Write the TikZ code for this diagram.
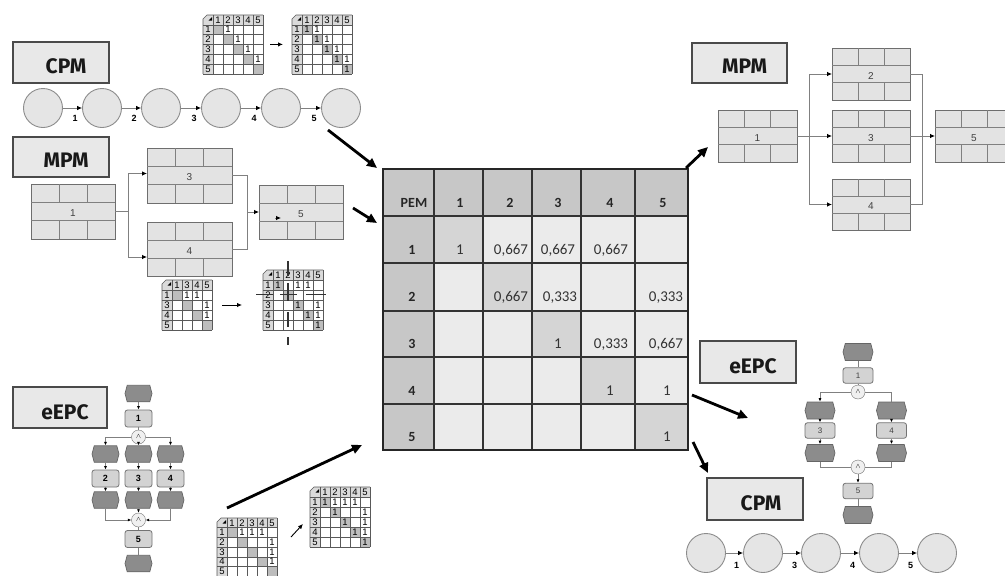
\documentclass[tikz,border=0pt]{standalone}
\usepackage{fontspec}
\setmainfont{Liberation Sans}
\newfontfamily\labfont{Fira Sans}
\newfontfamily\tabfont{Carlito}
\usetikzlibrary{arrows.meta,shapes.symbols,calc}

\definecolor{lblfill}{HTML}{E8E8E8}
\definecolor{lbldraw}{HTML}{4A4A4A}
\definecolor{mpmfill}{HTML}{E3E3E3}
\definecolor{mpmdraw}{HTML}{6E6E6E}
\definecolor{cpmfill}{HTML}{E5E5E5}
\definecolor{evfill}{HTML}{8C8C8C}
\definecolor{fnfill}{HTML}{D3D3D3}
\definecolor{pemhead}{HTML}{C7C7C7}
\definecolor{pembody}{HTML}{EBEBEB}
\definecolor{pemdiag}{HTML}{D5D5D5}
\definecolor{mmhead}{HTML}{DADADA}
\definecolor{mmdiag}{HTML}{BDBDBD}

\tikzset{
  lblbox/.style={draw=lbldraw, line width=1.3pt, fill=lblfill, inner sep=0, outer sep=0},
  lbltxt/.style={inner sep=0, font=\labfont\bfseries\fontsize{21}{21}\selectfont, text=black!90},
  cpmc/.style={circle, draw=black!45, line width=0.9pt, fill=cpmfill, minimum size=39pt, inner sep=0},
  cpmarr/.style={draw=black!50, line width=0.8pt, -{Latex[length=5pt,width=4.5pt,color=black]}},
  cpmnum/.style={inner sep=0, font=\bfseries\fontsize{9}{9}\selectfont},
  mpmbox/.style={draw=mpmdraw, line width=0.9pt, fill=mpmfill, inner sep=0, outer sep=0},
  mpmin/.style={draw=black!50, line width=0.8pt},
  mpmtxt/.style={inner sep=0, font=\fontsize{10}{10}\selectfont, text=black!75},
  conn/.style={draw=black!50, line width=0.8pt},
  connarr/.style={conn, -{Latex[length=5pt,width=4.5pt,color=black]}},
  event/.style={signal, signal to=west and east, signal pointer angle=150, draw=black!60,
                fill=evfill, line width=0.7pt, inner sep=0},
  func/.style={rectangle, rounded corners=2.5pt, draw=black!55, fill=fnfill, line width=0.8pt, inner sep=0},
  andc/.style={circle, draw=black!55, fill=black!6, minimum size=14pt, inner sep=0,
               font=\fontsize{7}{7}\selectfont},
  epcarr/.style={conn, -{Latex[length=3.5pt,width=3pt,color=black]}},
  bigarr/.style={line width=2.8pt, -{Triangle[length=10pt,width=9pt]}},
  smallarr/.style={line width=0.9pt, -{Latex[length=5pt,width=4.5pt]}},
  mmgrid/.style={draw=black!65, line width=0.6pt},
  mmtxt/.style={inner sep=0, font=\fontsize{9.5}{9.5}\selectfont},
  pemgrid/.style={draw=black!80, line width=1.1pt},
  pemhdr/.style={inner sep=0, anchor=base, font=\tabfont\bfseries\fontsize{14}{14}\selectfont, text=black!85},
  pemval/.style={inner sep=0, anchor=base, font=\tabfont\fontsize{15}{15}\selectfont, text=black!80},
  levent/.style={event, minimum width=27pt, minimum height=16.5pt},
  lfunc/.style={func, minimum width=27pt, minimum height=17pt, font=\bfseries\fontsize{9}{9}\selectfont},
  revent/.style={event, minimum width=30pt, minimum height=17pt},
  rfunc/.style={func, minimum width=30pt, minimum height=15.5pt, font=\fontsize{8}{8}\selectfont, text=black!75},
}

% small dependency matrix: name, origin, labels, entries (row/col), cell height
\newcommand{\minimat}[5]{%
  \begin{scope}[shift={(#2)}]
    \def\mh{#5}
    \foreach \lab [count=\k] in {#3} {\xdef\mmn{\k}}
    \pgfmathtruncatemacro\mmt{\mmn+1}
    \node[inner sep=0, outer sep=0, minimum width=\mmt*10pt, minimum height=\mmt*\mh*1pt,
          anchor=north west] (#1) at (0,0) {};
    \fill[white] (10,\mh) rectangle (\mmt*10,\mmt*\mh);
    \foreach \lab [count=\i] in {#3} {
      \fill[mmhead] (\i*10,0) rectangle ++(10,\mh);
      \fill[mmhead] (0,\i*\mh) rectangle ++(10,\mh);
      \fill[mmdiag] (\i*10,\i*\mh) rectangle ++(10,\mh);
      \node[mmtxt] (#1-c\i) at (\i*10+5,\mh/2) {\lab};
      \node[mmtxt] (#1-r\i) at (5,\i*\mh+\mh/2) {\lab};
    }
    \fill[mmhead] (0,4) -- (4,0) -- (10,0) -- (10,\mh) -- (0,\mh) -- cycle;
    \fill[black] (5.5,5.5) -- (9,2) -- (9,5.5) -- cycle;
    \foreach \k in {1,...,\mmt} {
      \draw[mmgrid] (\k*10,0) -- (\k*10,\mmt*\mh);
      \draw[mmgrid] (0,\k*\mh) -- (\mmt*10,\k*\mh);
    }
    \draw[mmgrid] (0,\mmt*\mh) -- (0,4) -- (4,0) -- (\mmt*10,0);
    \foreach \r/\c in {#4} \node[mmtxt] (#1-v\r\c) at (\c*10+5,\r*\mh+\mh/2) {1};
  \end{scope}}

% MPM activity box: name, x, y, width, height, label
\newcommand{\mpmnode}[6]{%
  \node[mpmbox, minimum width=#4pt, minimum height=#5pt, anchor=north west] (#1) at (#2,#3) {};
  \begin{scope}[shift={(#2,#3)}]
    \draw[mpmin] (0,#5/3) -- (#4,#5/3) (0,2*#5/3) -- (#4,2*#5/3);
    \draw[mpmin] (#4/3,0) -- (#4/3,#5/3) (2*#4/3,0) -- (2*#4/3,#5/3)
                 (#4/3,2*#5/3) -- (#4/3,#5) (2*#4/3,2*#5/3) -- (2*#4/3,#5);
    \node[mpmtxt] (#1-t) at (#4/2,#5/2+2) {#6};
  \end{scope}}

\begin{document}
\begin{tikzpicture}[x=1pt,y=-1pt]
\clip (0,0) rectangle (1005,576);
\fill[white] (0,0) rectangle (1005,576);

% ---------- CPM (top left) ----------
\node[lblbox, minimum width=96pt, minimum height=41pt] (cpmA) at (61,62.5) {};
\node[lbltxt] (cpmAt) at ($(cpmA)+(5,4)$) {CPM};
\foreach \i/\x in {1/43,2/102,3/161,4/221,5/281,6/341}
  \node[cpmc] (ta\i) at (\x,108) {};
\foreach \i [evaluate=\i as \j using int(\i+1)] in {1,...,5} {
  \draw[cpmarr] (ta\i) -- (ta\j);
  \node[cpmnum] (tan\i) at ($(ta\j.west)+(-7,10)$) {\i};
}

\minimat{mmA}{203,15}{1,2,3,4,5}{1/2,2/3,3/4,4/5}{9.8}
\minimat{mmB}{292,15}{1,2,3,4,5}{1/1,1/2,2/2,2/3,3/3,3/4,4/4,4/5,5/5}{9.8}
\draw[smallarr, shorten <=7pt, shorten >=9pt] (mmA.east) -- (mmB.west);

% ---------- MPM (left) ----------
\node[lblbox, minimum width=96pt, minimum height=40pt] (mpmA) at (61,157) {};
\node[lbltxt] (mpmAt) at ($(mpmA)+(5,3.5)$) {MPM};
\mpmnode{m1}{31}{184}{84}{55}{1}
\mpmnode{m3}{147}{148}{85}{55}{3}
\mpmnode{m4}{147}{222}{85}{54}{4}
\mpmnode{m5}{259}{185}{84}{54}{5}
\coordinate (fa) at (128,211.5);
\coordinate (fb) at (247,212);
\draw[conn] (m1.east) -- (fa);
\draw[connarr] (fa) |- ([yshift=2pt]m3.west);
\draw[connarr] (fa) |- ([yshift=-8pt]m4.west);
\draw[conn] (m3.east) -| (fb);
\draw[conn] (m4.east) -| (fb);
\draw[connarr] (fb) -- (m5.west);
\draw[connarr] ([xshift=16pt,yshift=-6pt]m5.west) -- ([xshift=22pt,yshift=-6pt]m5.west);

\minimat{mmC}{162,280}{1,3,4,5}{1/2,1/3,2/4,3/4}{10}
\minimat{mmD}{263,270}{1,2,3,4,5}{1/1,1/3,1/4,3/3,3/5,4/4,4/5,5/5}{10}
\draw[smallarr, shorten <=10pt, shorten >=21pt] (mmC.east) -- (mmC.east -| mmD.west);
% cross marking the inserted activity 2
\begin{scope}[draw=black!80, line width=1.2pt]
  \draw (288,261) -- (288,276) (288,283) -- (288,301) (288,312) -- (288,327) (288,337) -- (288,345);
  \draw (256,294.5) -- (273,294.5) (280,294.5) -- (297,294.5) (306,294.5) -- (326,294.5);
\end{scope}

% ---------- eEPC (left) ----------
\node[lblbox, minimum width=94pt, minimum height=41pt] (epcA) at (60,407.5) {};
\node[lbltxt] (epcAt) at ($(epcA)+(5,5)$) {eEPC};
\node[levent] (le0) at (138.5,393.5) {};
\node[lfunc] (lf1) at (138.5,418.5) {1};
\node[andc] (lc1) at (138.5,437) {$\wedge$};
\node[levent] (le2a) at (105.5,454) {};
\node[levent] (le2b) at (138.5,454) {};
\node[levent] (le2c) at (170.5,454) {};
\node[lfunc] (lf2) at (105.5,478.5) {2};
\node[lfunc] (lf3) at (138.5,478.5) {3};
\node[lfunc] (lf4) at (170.5,478.5) {4};
\node[levent] (le3a) at (105.5,500) {};
\node[levent] (le3b) at (138.5,500) {};
\node[levent] (le3c) at (170.5,500) {};
\node[andc] (lc2) at (138.5,520) {$\wedge$};
\node[lfunc] (lf5) at (138.5,539) {5};
\node[levent] (le4) at (138.5,563.5) {};
\draw[epcarr] (le0) -- (lf1);
\draw[conn] (lf1) -- (lc1);
\draw[epcarr] (lc1.west) -| (le2a.north);
\draw[epcarr] (lc1) -- (le2b);
\draw[epcarr] (lc1.east) -| (le2c.north);
\foreach \s/\f in {a/2,b/3,c/4} {
  \draw[epcarr] (le2\s) -- (lf\f);
  \draw[epcarr] (lf\f) -- (le3\s);
}
\draw[epcarr] (le3a.south) |- (lc2.west);
\draw[epcarr] (le3b) -- (lc2);
\draw[epcarr] (le3c.south) |- (lc2.east);
\draw[conn] (lc2) -- (lf5);
\draw[conn] (lf5) -- (le4);

\minimat{mmE}{217,518}{1,2,3,4,5}{1/2,1/3,1/4,2/5,3/5,4/5}{9.7}
\minimat{mmF}{310,487}{1,2,3,4,5}{1/1,1/2,1/3,1/4,2/2,2/5,3/3,3/5,4/4,4/5,5/5}{10}
\coordinate (sa1) at (291,537);
\coordinate (sa2) at (303,524);
\draw[smallarr] (sa1) -- (sa2);

% ---------- PEM matrix ----------
\node[inner sep=0, outer sep=0, minimum width=305pt, minimum height=281pt, anchor=north west] (pem) at (383,169) {};
\foreach \c/\xa/\xb in {0/383/434,1/434/483,2/483/532,3/532/581,4/581/635,5/635/688}
  \foreach \r/\ya/\yb in {0/169/216,1/216/263,2/263/311,3/311/357,4/357/404,5/404/450} {
    \ifnum\r=0 \def\cf{pemhead}\else
      \ifnum\c=0 \def\cf{pemhead}\else
        \ifnum\r=\c \def\cf{pemdiag}\else \def\cf{pembody}\fi
      \fi
    \fi
    \filldraw[fill=\cf, pemgrid] (\xa,\ya) rectangle (\xb,\yb);
  }
\draw[draw=black!85, line width=1.6pt] (pem.north west) rectangle (pem.south east);
\node[pemhdr] (ph0) at (414,207) {PEM};
\foreach \t/\x in {1/460,2/510,3/558,4/610,5/663}
  \node[pemhdr] (ph\t) at (\x,207) {\t};
\foreach \t/\y in {1/254,2/301.5,3/348,4/395,5/441.5}
  \node[pemhdr] (pr\t) at (412,\y) {\t};
\node[pemval] (v11) at (460,254) {1};
\node[pemval] (v12) at (511,254) {0,667};
\node[pemval] (v13) at (558,254) {0,667};
\node[pemval] (v14) at (611,254) {0,667};
\node[pemval] (v22) at (511,301.5) {0,667};
\node[pemval] (v23) at (560,301.5) {0,333};
\node[pemval] (v25) at (666,301.5) {0,333};
\node[pemval] (v33) at (558,348) {1};
\node[pemval] (v34) at (611,348) {0,333};
\node[pemval] (v35) at (666,348) {0,667};
\node[pemval] (v44) at (610,395) {1};
\node[pemval] (v45) at (667,395) {1};
\node[pemval] (v55) at (667,441.5) {1};

% ---------- arrows into and out of the matrix ----------
\coordinate (t1) at (328,130);
\coordinate (t2) at (353,208);
\coordinate (t3) at (227,508);
\coordinate (h4) at (708,147);
\coordinate (h5) at (748,418);
\coordinate (h6) at (708,473);
\draw[bigarr] (t1) -- ([shift={(-6,-1)}]pem.north west);
\draw[bigarr] (t2) -- ([shift={(-6,54)}]pem.north west);
\draw[bigarr] (t3) -- ([shift={(-21,-5)}]pem.south west);
\draw[bigarr] ([shift={(-2,-1)}]pem.north east) -- (h4);
\draw[bigarr] ([shift={(4,-55)}]pem.south east) -- (h5);
\draw[bigarr] ([shift={(5,-8)}]pem.south east) -- (h6);

% ---------- MPM (right) ----------
\node[lblbox, minimum width=95pt, minimum height=40pt] (mpmB) at (739.5,63) {};
\node[lbltxt] (mpmBt) at ($(mpmB)+(5,3)$) {MPM};
\mpmnode{r1}{718}{110}{79}{52}{1}
\mpmnode{r2}{832}{48}{78}{52}{2}
\mpmnode{r3}{832}{110}{78}{52}{3}
\mpmnode{r4}{832}{179}{78}{51}{4}
\mpmnode{r5}{935}{110}{78}{52}{5}
\coordinate (fc) at (809,136);
\coordinate (fd) at (922,136);
\draw[conn] (r1.east) -- (fc);
\draw[connarr] (fc) |- (r2.west);
\draw[connarr] (fc) -- (r3.west);
\draw[connarr] (fc) |- (r4.west);
\draw[conn] (r2.east) -| (fd);
\draw[conn] (r3.east) -- (fd);
\draw[conn] (r4.east) -| (fd);
\draw[connarr] (fd) -- (r5.west);

% ---------- eEPC (right) ----------
\node[lblbox, minimum width=96pt, minimum height=42pt] (epcB) at (748,362) {};
\node[lbltxt] (epcBt) at ($(epcB)+(5,4)$) {eEPC};
\node[revent] (re0) at (858,352) {};
\node[rfunc] (rf1) at (858,375.5) {1};
\node[andc] (rc1) at (858,392) {$\wedge$};
\node[revent] (re2a) at (820,410.5) {};
\node[revent] (re2c) at (891.5,410.5) {};
\node[rfunc] (rf3) at (820,430.5) {3};
\node[rfunc] (rf4) at (891.5,430.5) {4};
\node[revent] (re3a) at (820,453) {};
\node[revent] (re3c) at (891.5,453) {};
\node[andc] (rc2) at (858,467) {$\wedge$};
\node[rfunc] (rf5) at (858,491) {5};
\node[revent] (re4) at (858,515) {};
\draw[conn] (re0) -- (rf1);
\draw[conn] (rf1) -- (rc1);
\draw[epcarr] (rc1.west) -| (re2a.north);
\draw[conn] (rc1.east) -| (re2c.north);
\draw[epcarr] (re2a) -- (rf3);
\draw[epcarr] (re2c) -- (rf4);
\draw[epcarr] (rf3) -- (re3a);
\draw[epcarr] (rf4) -- (re3c);
\draw[conn] (re3a.south) |- (rc2.west);
\draw[conn] (re3c.south) |- (rc2.east);
\draw[epcarr] (rc2) -- (rf5);
\draw[conn] (rf5) -- (re4);

% ---------- CPM (bottom right) ----------
\node[lblbox, minimum width=96pt, minimum height=42pt] (cpmB) at (755,499) {};
\node[lbltxt] (cpmBt) at ($(cpmB)+(6,4)$) {CPM};
\foreach \i/\x in {1/706,2/763,3/821,4/879,5/937}
  \node[cpmc] (bc\i) at (\x,553) {};
\foreach \i/\j/\t in {1/2/1,2/3/3,3/4/4,4/5/5} {
  \draw[cpmarr] (bc\i) -- (bc\j);
  \node[cpmnum] (bcn\i) at ($(bc\j.west)+(-6.5,12)$) {\t};
}
\end{tikzpicture}
\end{document}
